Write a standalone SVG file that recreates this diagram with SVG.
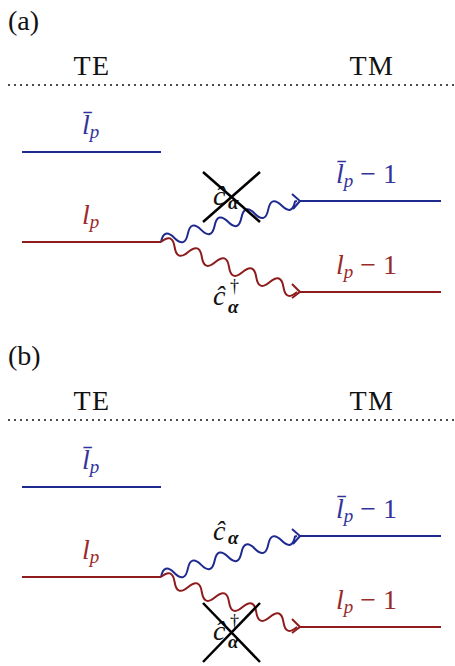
<svg xmlns="http://www.w3.org/2000/svg" width="455" height="666" viewBox="0 0 455 666" font-family="Liberation Serif, Times New Roman, serif">
<style>
text{font-family:"Liberation Serif","Times New Roman",serif;font-size:28px;fill:#111}
.it{font-style:italic}
.sub{font-size:19px}
.al{font-size:19px;font-weight:bold;font-style:italic}
.dg{font-size:18px}
.b{fill:#33339c}
.r{fill:#9a2a2a}
.bl{stroke:#1f2a8f;stroke-width:2;fill:none}
.rl{stroke:#8e1c1c;stroke-width:2;fill:none}
.dot{stroke:#111;stroke-width:2;stroke-dasharray:0 6;stroke-linecap:round}
.x{stroke:#000;stroke-width:2.5}
</style>
<defs>
<path id="wb" d="M0,0 q7,-13 14,0 t14,0 t14,0 t14,0 t14,0 t14,0 t14,0 t14,0 t14,0 t14,0 l2,0"/>
<path id="wr" d="M0,0 q7.25,-13 14.5,0 t14.5,0 t14.5,0 t14.5,0 t14.5,0 t14.5,0 t14.5,0 t14.5,0 t14.5,0 t14.5,0"/>
</defs>
<g id="panel-a">
<text x="8" y="30">(a)</text>
<text x="92" y="75" text-anchor="middle" letter-spacing="1.5">TE</text>
<text x="372" y="75" text-anchor="middle" letter-spacing="1.5">TM</text>
<line class="dot" x1="9" y1="85" x2="455" y2="85"/>
<g id="a-lbar-left"><line class="bl" x1="22" y1="152" x2="161" y2="152"/><text class="it b" x="82" y="134">l̄<tspan class="sub" dy="4">p</tspan></text></g>
<g id="a-l-left"><line class="rl" x1="22" y1="242" x2="161" y2="242"/><text class="it r" x="82" y="224">l<tspan class="sub" dy="4">p</tspan></text></g>
<g id="a-lbar-right"><line class="bl" x1="300" y1="201" x2="441" y2="201"/><text class="b" x="336" y="183"><tspan class="it">l̄</tspan><tspan class="sub it" dy="4">p</tspan><tspan dy="-4"> − 1</tspan></text></g>
<g id="a-l-right"><line class="rl" x1="300" y1="292" x2="441" y2="292"/><text class="r" x="336" y="274"><tspan class="it">l</tspan><tspan class="sub it" dy="4">p</tspan><tspan dy="-4"> − 1</tspan></text></g>
<g id="a-connectors">
<use href="#wb" class="bl" transform="translate(161,242) rotate(-16.8)"/>
<path class="bl" d="M292,194 L300,201 L293,209"/>
<use href="#wr" class="rl" transform="translate(161,242) rotate(20.2)"/>
<path class="rl" d="M292,284 L300,292 L292,298"/>
</g>
<text class="it" x="213" y="205">ĉ</text><text class="al" x="228" y="209">α</text>
<text class="it" x="213" y="305">ĉ</text><text class="dg" x="230" y="292">†</text><text class="al" x="228" y="313">α</text>
<g id="a-cross"><line class="x" x1="203" y1="172" x2="260" y2="222"/><line class="x" x1="260" y1="172" x2="203" y2="222"/></g>
</g>
<g id="panel-b">
<text x="8" y="365">(b)</text>
<text x="92" y="410" text-anchor="middle" letter-spacing="1.5">TE</text>
<text x="372" y="410" text-anchor="middle" letter-spacing="1.5">TM</text>
<line class="dot" x1="9" y1="420" x2="455" y2="420"/>
<g id="b-lbar-left"><line class="bl" x1="22" y1="487" x2="161" y2="487"/><text class="it b" x="82" y="469">l̄<tspan class="sub" dy="4">p</tspan></text></g>
<g id="b-l-left"><line class="rl" x1="22" y1="577" x2="161" y2="577"/><text class="it r" x="82" y="559">l<tspan class="sub" dy="4">p</tspan></text></g>
<g id="b-lbar-right"><line class="bl" x1="300" y1="536" x2="441" y2="536"/><text class="b" x="336" y="518"><tspan class="it">l̄</tspan><tspan class="sub it" dy="4">p</tspan><tspan dy="-4"> − 1</tspan></text></g>
<g id="b-l-right"><line class="rl" x1="300" y1="627" x2="441" y2="627"/><text class="r" x="336" y="609"><tspan class="it">l</tspan><tspan class="sub it" dy="4">p</tspan><tspan dy="-4"> − 1</tspan></text></g>
<g id="b-connectors">
<use href="#wb" class="bl" transform="translate(161,577) rotate(-16.8)"/>
<path class="bl" d="M292,529 L300,536 L293,544"/>
<use href="#wr" class="rl" transform="translate(161,577) rotate(20.2)"/>
<path class="rl" d="M292,619 L300,627 L292,633"/>
</g>
<text class="it" x="213" y="540">ĉ</text><text class="al" x="228" y="544">α</text>
<text class="it" x="213" y="640">ĉ</text><text class="dg" x="230" y="627">†</text><text class="al" x="228" y="648">α</text>
<g id="b-cross"><line class="x" x1="203" y1="603" x2="260" y2="662"/><line class="x" x1="260" y1="603" x2="203" y2="662"/></g>
</g>
</svg>
